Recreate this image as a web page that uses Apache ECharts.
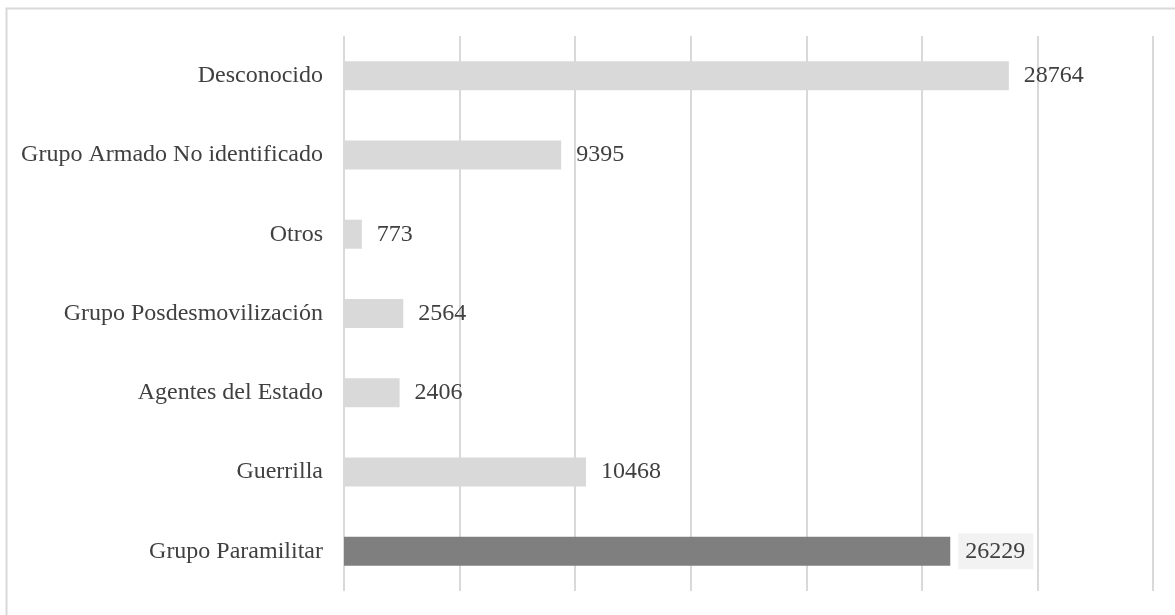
<!DOCTYPE html>
<html>
<head>
<meta charset="utf-8">
<script src="https://cdn.jsdelivr.net/npm/echarts@6/dist/echarts.min.js"></script>
<style>html,body{margin:0;padding:0;background:#fff}#c{width:1175px;height:615px}</style>
</head>
<body>
<div id="c"></div>
<script>
const categories = ["Desconocido", "Grupo Armado No identificado", "Otros", "Grupo Posdesmovilización", "Agentes del Estado", "Guerrilla", "Grupo Paramilitar"];
const values = [28764, 9395, 773, 2564, 2406, 10468, 26229];
const highlighted = "Grupo Paramilitar";

const chart = echarts.init(document.getElementById('c'));
const font = "'Liberation Serif', 'Times New Roman', serif";
chart.setOption({
  animation: false,
  backgroundColor: '#fff',
  graphic: [{
    type: 'rect', left: 4, top: 6, silent: true,
    shape: { x: 0, y: 0, width: 1220, height: 700 },
    style: { fill: 'none', stroke: '#d9d9d9', lineWidth: 2 }
  }],
  grid: { left: 344, right: 22, top: 36, bottom: 24, containLabel: false },
  xAxis: {
    type: 'value', min: 0, max: 35000, interval: 5000,
    axisLabel: { show: false }, axisLine: { show: false }, axisTick: { show: false },
    splitLine: { show: true, lineStyle: { color: '#d9d9d9', width: 2 } }
  },
  yAxis: {
    type: 'category', data: categories, inverse: true,
    axisLine: { show: false }, axisTick: { show: false },
    axisLabel: { color: '#404040', fontSize: 24, fontFamily: font, margin: 21 }
  },
  series: [{
    type: 'bar', barWidth: 29,
    data: categories.map((c, i) => ({
      value: values[i],
      itemStyle: { color: c === highlighted ? '#7f7f7f' : '#d9d9d9' },
      label: c === highlighted ? { backgroundColor: '#f2f2f2' } : {}
    })),
    label: {
      show: true, position: 'right', distance: 8, padding: [6, 8, 6, 7],
      color: '#404040', fontSize: 24, fontFamily: font
    }
  }]
});
</script>
</body>
</html>
